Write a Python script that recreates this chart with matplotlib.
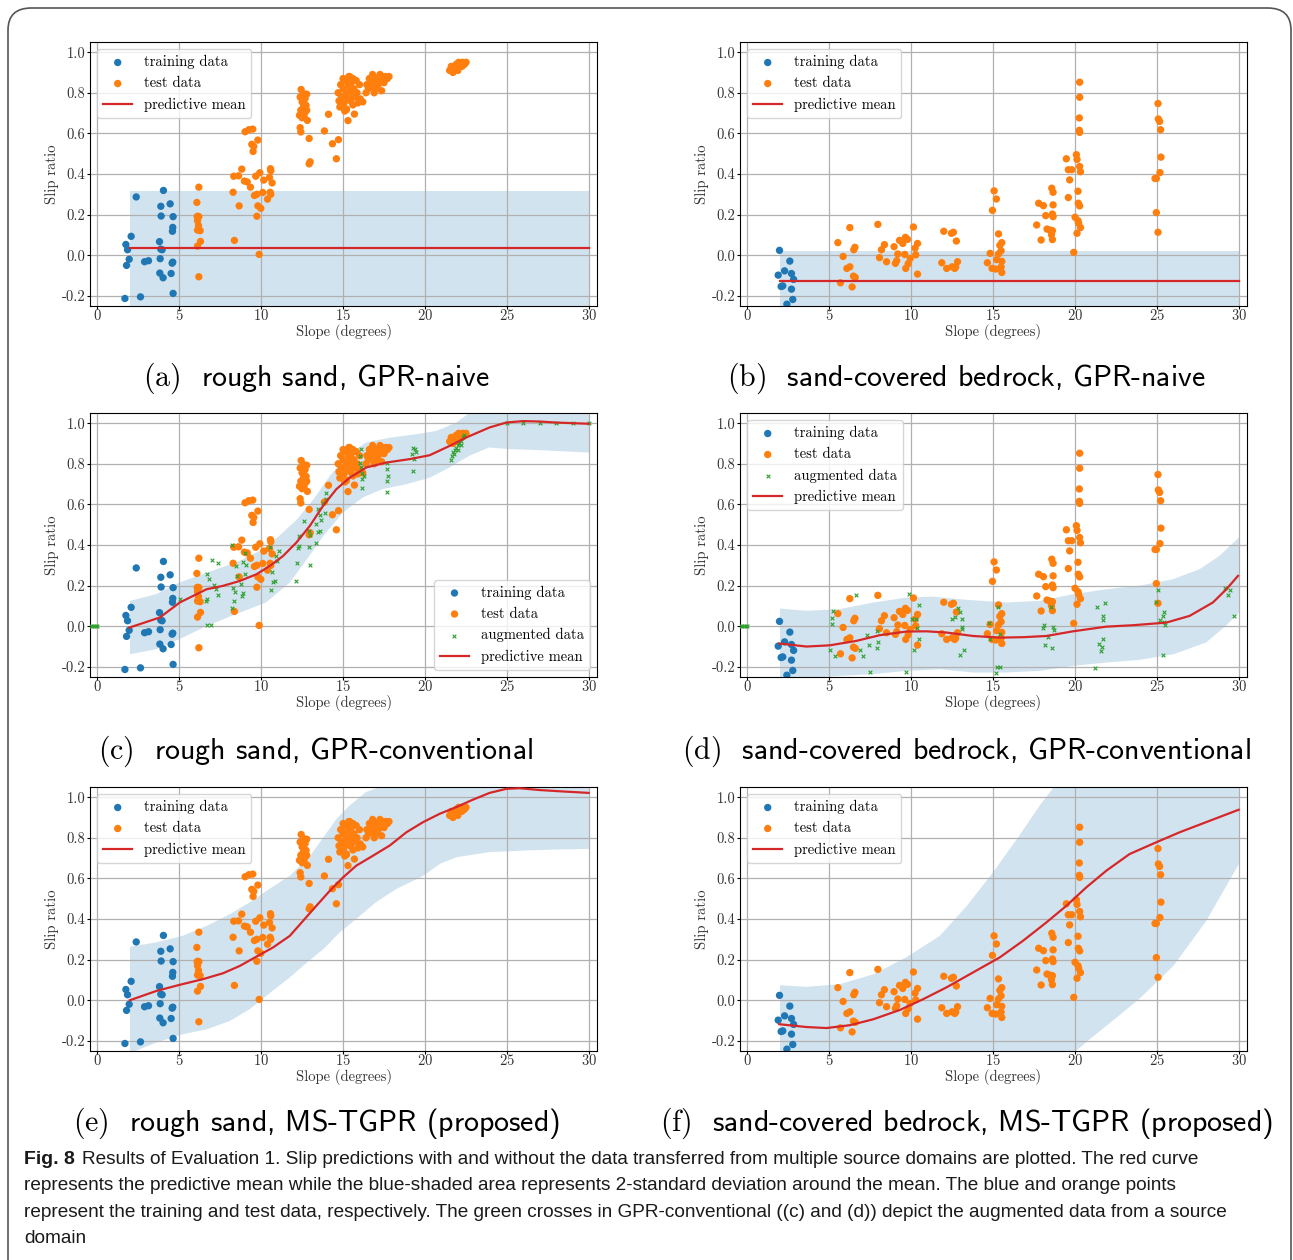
import numpy as np
import matplotlib
matplotlib.use("Agg")
import matplotlib.pyplot as plt
from matplotlib.patches import FancyBboxPatch

plt.rcParams['font.family'] = 'cmr10'
plt.rcParams['mathtext.fontset'] = 'cm'
plt.rcParams['axes.formatter.use_mathtext'] = True
plt.rcParams['axes.unicode_minus'] = True

# ---------------- data ----------------
# rough sand: training data (blue)
train_rs_x = [1.75, 1.85, 2.07, 1.95, 1.79, 1.69, 2.38, 2.64, 2.89, 3.13, 3.80, 3.88, 3.96,
              3.84, 3.82, 4.02, 3.90, 3.88, 4.04, 4.45, 4.63, 4.61, 4.59, 4.51, 4.61, 4.57, 4.63]
train_rs_y = [0.053, 0.027, 0.093, -0.020, -0.050, -0.213, 0.287, -0.205, -0.032, -0.027, 0.067, 0.030, 0.027,
              -0.017, -0.088, -0.111, 0.193, 0.241, 0.319, 0.253, 0.190, 0.137, 0.118, -0.090, -0.034, -0.039, -0.188]

# rough sand: test data (orange)
test_rs_x = [6.20, 6.08, 6.14, 6.12, 6.18, 6.12, 6.28, 6.30, 6.12, 6.20, 6.10, 6.20,
             8.29, 8.33, 8.62, 8.82, 8.37, 8.66, 8.98, 9.15, 9.35, 9.02, 9.25, 9.49, 9.43, 9.55, 9.51,
             9.80, 9.67, 9.92, 10.16, 9.59, 9.74, 10.10, 9.80, 9.98, 9.74, 9.88, 10.57, 10.59, 10.51,
             10.67, 10.55, 10.59, 10.39,
             12.44, 12.58, 12.78, 12.38, 12.68, 12.50, 12.74, 12.58, 12.42, 12.78, 12.34, 12.62, 12.82,
             12.50, 12.68, 12.38, 12.42, 12.93, 12.93, 12.99,
             14.11, 13.86, 14.35, 14.72, 14.59, 15.30, 15.69, 15.20, 16.20, 16.40,
             14.70, 14.75, 14.80, 14.85, 14.90, 15.00, 15.00, 15.05, 15.10, 15.15, 15.20, 15.25, 15.30,
             15.35, 15.40, 15.45, 15.50, 15.55, 15.60, 15.65, 15.70, 15.80, 15.85, 15.90, 16.00, 16.05,
             15.20, 15.60, 15.40,
             16.45, 16.55, 16.60, 16.70, 16.80, 16.85, 16.95, 17.00, 17.10, 17.15, 17.25, 17.30, 17.40,
             17.50, 17.60, 17.70, 17.80, 16.90, 17.35,
             21.50, 21.60, 21.70, 21.80, 21.90, 22.00, 22.10, 22.20, 22.30, 22.40, 22.50, 21.65, 21.95,
             22.25, 22.05]
test_rs_y = [0.335, 0.260, 0.192, 0.170, 0.146, 0.124, 0.121, 0.068, 0.045, -0.106, 0.190, 0.190,
             0.310, 0.389, 0.391, 0.424, 0.073, 0.243, 0.365, 0.361, 0.335, 0.608, 0.618, 0.621, 0.546, 0.536, 0.511,
             0.567, 0.389, 0.406, 0.370, 0.294, 0.300, 0.309, 0.243, 0.231, 0.192, 0.004, 0.426, 0.416, 0.383,
             0.356, 0.310, 0.300, 0.276,
             0.816, 0.796, 0.793, 0.779, 0.771, 0.755, 0.738, 0.730, 0.714, 0.714, 0.689, 0.684, 0.664,
             0.677, 0.705, 0.628, 0.607, 0.575, 0.450, 0.460,
             0.694, 0.612, 0.549, 0.569, 0.475, 0.663, 0.695, 0.717, 0.755, 0.800,
             0.800, 0.760, 0.730, 0.840, 0.780, 0.870, 0.820, 0.750, 0.710, 0.860, 0.800, 0.770, 0.840,
             0.880, 0.810, 0.760, 0.850, 0.790, 0.870, 0.820, 0.780, 0.860, 0.800, 0.750, 0.840, 0.770,
             0.720, 0.740, 0.880,
             0.840, 0.820, 0.870, 0.850, 0.890, 0.830, 0.860, 0.820, 0.870, 0.840, 0.890, 0.860, 0.880,
             0.850, 0.880, 0.870, 0.880, 0.800, 0.810,
             0.910, 0.930, 0.900, 0.920, 0.940, 0.910, 0.930, 0.940, 0.950, 0.940, 0.950, 0.920, 0.925,
             0.930, 0.950]

# sand-covered bedrock: training data (blue)
train_sb_x = [1.97, 2.60, 2.28, 1.89, 2.70, 2.83, 2.07, 2.17, 2.70, 2.78, 2.42]
train_sb_y = [0.024, -0.029, -0.077, -0.098, -0.090, -0.119, -0.154, -0.151, -0.167, -0.218, -0.241]

# sand-covered bedrock: test data (orange)
test_sb_x = [5.53, 5.85, 6.26, 6.57, 6.50, 6.26, 6.08, 5.69, 6.40, 6.48, 6.59,
             7.97, 8.07, 8.19, 8.37, 8.50, 8.96, 9.04, 9.12, 9.19, 9.29, 9.49, 9.65, 9.78, 9.61, 9.82,
             9.67, 9.94, 10.14, 10.24, 10.39, 10.28, 10.39,
             11.99, 12.46, 12.58, 12.76, 11.87, 12.17, 12.50, 12.66, 12.72, 12.83,
             15.06, 15.20, 14.96, 15.33, 14.82, 14.65, 14.94, 15.16, 15.41, 15.53, 15.49, 15.33, 15.22,
             15.53, 15.49, 15.53,
             17.66, 17.93, 17.78, 18.07, 18.58, 18.66, 18.66, 18.21, 18.62, 18.66, 18.29, 18.46, 18.62,
             18.56, 18.62,
             19.47, 19.59, 19.80, 19.67, 19.59, 19.92, 20.08, 20.12, 20.28, 20.33, 20.28, 20.28, 20.26,
             20.26, 20.28, 20.18, 20.20, 20.28, 20.00, 20.18, 20.22, 20.33, 20.12,
             25.06, 25.08, 25.16, 25.22, 25.24, 25.18, 24.88, 24.96, 24.96, 25.06]
test_sb_y = [0.062, -0.006, 0.136, 0.039, 0.027, -0.057, -0.065, -0.136, -0.156, -0.103, -0.109,
             0.152, -0.012, 0.027, 0.052, -0.032, 0.042, -0.040, -0.027, 0.006, 0.073, 0.058, 0.088, 0.078, 0.004, -0.042,
             -0.065, -0.016, 0.139, 0.035, 0.058, 0.002, -0.093,
             0.118, 0.108, 0.113, 0.070, -0.037, -0.065, -0.057, -0.065, -0.058, -0.032,
             0.317, 0.277, 0.221, 0.105, 0.009, -0.037, -0.065, -0.068, 0.049, 0.062, 0.022, 0.006, -0.022,
             -0.030, -0.058, -0.085,
             0.149, 0.075, 0.256, 0.244, 0.330, 0.310, 0.248, 0.195, 0.203, 0.190, 0.129, 0.124, 0.121,
             0.101, 0.077,
             0.475, 0.421, 0.421, 0.371, 0.284, 0.014, 0.495, 0.472, 0.437, 0.411, 0.852, 0.778, 0.676,
             0.615, 0.605, 0.315, 0.256, 0.243, 0.187, 0.170, 0.157, 0.136, 0.108,
             0.747, 0.671, 0.659, 0.618, 0.483, 0.407, 0.378, 0.378, 0.210, 0.113]

# augmented data (green crosses), GPR-conventional
aug_rs_x = [-0.40, -0.30, -0.20, -0.10, 0.00,
            5.04, 6.67, 6.99, 7.36, 6.83, 7.11, 7.24, 7.34, 6.71, 6.65, 6.67, 6.95,
            8.25, 8.46, 8.31, 8.41, 8.35, 8.25, 8.52, 8.90, 9.02, 9.07, 8.80, 8.90, 8.84, 9.02,
            10.57, 10.69, 10.83, 10.71, 10.61, 10.93, 11.06, 10.98,
            12.15, 12.20, 12.26, 12.32, 12.28, 12.62, 12.89, 12.97, 12.93, 12.97,
            13.37, 13.45, 13.62, 13.37, 13.48, 13.58, 13.68, 13.78, 13.94, 13.98, 13.88,
            16.02, 16.06, 16.12, 16.18, 16.16, 16.14, 16.08, 16.30,
            17.68, 17.70, 17.74, 17.70, 17.70,
            19.27, 19.37, 19.47, 19.23, 19.33, 19.27,
            21.60, 21.65, 21.70, 21.80, 21.90, 22.00, 22.10, 22.20, 22.30, 22.40, 21.75, 22.00, 22.20,
            25.0, 26.0, 27.0, 28.0, 29.0, 30.0]
aug_rs_y = [0.0, 0.0, 0.0, 0.0, 0.0,
            0.133, 0.255, 0.327, 0.310, 0.232, 0.204, 0.182, 0.153, 0.136, 0.125, 0.005, 0.005,
            0.399, 0.297, 0.186, 0.169, 0.122, 0.089, 0.248, 0.314, 0.360, 0.300, 0.207, 0.166, 0.149, 0.256,
            0.392, 0.268, 0.223, 0.220, 0.179, 0.346, 0.371, 0.322,
            0.223, 0.310, 0.383, 0.396, 0.445, 0.519, 0.470, 0.448, 0.392, 0.300,
            0.412, 0.465, 0.470, 0.502, 0.576, 0.547, 0.524, 0.609, 0.626, 0.658, 0.560,
            0.839, 0.806, 0.782, 0.757, 0.724, 0.683, 0.872, 0.741,
            0.806, 0.773, 0.741, 0.716, 0.663,
            0.880, 0.872, 0.856, 0.847, 0.823, 0.765,
            0.820, 0.840, 0.860, 0.870, 0.880, 0.890, 0.900, 0.910, 0.930, 0.940, 0.850, 0.870, 0.890,
            1.0, 1.0, 1.0, 1.0, 1.0, 1.0]

aug_sb_x = [-0.40, -0.30, -0.20, -0.10, 0.00,
            6.65, 5.24, 5.18, 5.20, 5.08, 5.33, 6.89, 7.07, 7.28, 7.46, 7.52, 7.89, 7.95, 7.91,
            9.86, 10.08, 10.28, 10.33, 10.47, 10.47, 10.18, 9.67,
            12.52, 12.66, 12.83, 12.97, 13.13, 13.09, 13.11, 13.25, 12.97,
            14.72, 15.33, 14.84, 15.41, 15.26, 15.43, 15.20,
            18.03, 18.11, 18.56, 18.66, 18.70, 18.37, 18.19, 18.62,
            21.34, 21.81, 21.71, 21.69, 21.71, 21.46, 21.63, 21.57, 21.22,
            25.04, 24.96, 25.45, 25.37, 25.20, 25.43, 25.51, 25.37,
            29.13, 29.33, 29.47, 29.70]
aug_sb_y = [0.0, 0.0, 0.0, 0.0, 0.0,
            0.153, 0.076, 0.041, 0.010, -0.117, -0.149, -0.117, -0.149, -0.043, -0.094, -0.223, -0.023, -0.076, -0.108,
            0.161, 0.034, 0.034, -0.011, 0.103, -0.064, -0.117, -0.225,
            0.034, 0.046, 0.090, 0.071, 0.038, -0.015, -0.003, -0.117, -0.141,
            0.018, 0.094, -0.064, -0.039, -0.199, -0.199, -0.232,
            -0.007, 0.005, 0.095, -0.002, -0.021, -0.054, -0.090, -0.107,
            0.095, 0.112, 0.048, 0.031, -0.064, -0.087, -0.102, -0.123, -0.205,
            0.179, 0.120, 0.072, 0.048, 0.031, 0.021, 0.005, -0.140,
            0.186, 0.156, 0.176, 0.051]

# predictive means and 2-sigma bands
naive_rs_mean, naive_rs_up, naive_rs_lo = 0.034, 0.315, -0.25
naive_sb_mean, naive_sb_up, naive_sb_lo = -0.126, 0.022, -0.28

conv_rs_mx = [1.95, 3.82, 5.04, 6.67, 7.68, 8.70, 9.72, 10.53, 11.34, 12.15, 12.97, 13.78, 14.59,
              15.41, 16.42, 17.64, 19.07, 20.28, 21.5, 22.5, 23.94, 24.96, 25.97, 26.99, 28.0, 29.98]
conv_rs_my = [-0.007, 0.043, 0.117, 0.182, 0.199, 0.223, 0.256, 0.297, 0.346, 0.412, 0.494, 0.593, 0.675,
              0.732, 0.782, 0.806, 0.823, 0.842, 0.888, 0.929, 0.979, 1.003, 1.010, 1.008, 1.003, 0.997]
conv_rs_ux = [2.0, 3.6, 5.0, 6.7, 8.7, 10.1, 11.1, 12.2, 13.2, 14.2, 15.2, 16.4, 17.9, 19.5, 20.7,
              21.9, 22.7, 24.0, 26.0, 28.0, 30.0]
conv_rs_uy = [0.125, 0.158, 0.215, 0.264, 0.322, 0.379, 0.445, 0.527, 0.626, 0.741, 0.839, 0.905, 0.929,
              0.946, 0.962, 1.003, 1.05, 1.09, 1.11, 1.10, 1.09]
conv_rs_lx = [2.0, 3.6, 5.0, 6.7, 8.7, 10.3, 11.75, 12.8, 13.8, 15.0, 16.2, 17.4, 18.9, 20.3, 21.5,
              22.7, 23.9, 25.2, 27.0, 29.0, 30.0]
conv_rs_ly = [-0.138, -0.113, -0.064, 0.002, 0.067, 0.117, 0.215, 0.330, 0.445, 0.560, 0.634, 0.675,
              0.700, 0.732, 0.782, 0.839, 0.880, 0.872, 0.867, 0.859, 0.855]

conv_sb_mx = [1.95, 3.62, 5.04, 6.67, 8.09, 9.72, 10.93, 12.15, 13.78, 15.41, 16.83, 18.25, 19.88,
              21.91, 23.54, 25.57, 26.99, 28.41, 29.23, 29.94]
conv_sb_my = [-0.085, -0.100, -0.094, -0.072, -0.044, -0.026, -0.025, -0.031, -0.048, -0.056, -0.054,
              -0.048, -0.025, -0.002, 0.005, 0.018, 0.051, 0.117, 0.182, 0.248]
conv_sb_ux = [2.0, 3.6, 5.65, 7.7, 9.7, 11.3, 13.4, 15.8, 17.85, 19.9, 21.9, 23.9, 26.0, 27.6, 28.8, 30.0]
conv_sb_uy = [0.087, 0.076, 0.084, 0.117, 0.141, 0.146, 0.130, 0.117, 0.125, 0.158, 0.182, 0.199,
              0.232, 0.281, 0.346, 0.437]
conv_sb_lx = [2.0, 3.6, 5.65, 7.7, 9.7, 11.75, 13.8, 15.8, 17.85, 19.9, 21.9, 23.9, 26.0, 28.0, 29.2, 30.0]
conv_sb_ly = [-0.27, -0.255, -0.245, -0.236, -0.220, -0.212, -0.228, -0.228, -0.220, -0.195, -0.179,
              -0.166, -0.138, -0.080, 0.002, 0.067]

ms_rs_mx = [1.99, 3.62, 5.04, 6.46, 7.68, 8.70, 9.72, 10.73, 11.75, 12.56, 13.37, 14.19, 15.0, 15.81,
            16.83, 17.85, 18.86, 19.88, 20.89, 21.91, 22.93, 23.94, 24.96, 25.77, 26.99, 28.41, 29.98]
ms_rs_my = [0.0, 0.046, 0.076, 0.104, 0.133, 0.169, 0.215, 0.260, 0.317, 0.391, 0.465, 0.539, 0.605,
            0.663, 0.712, 0.762, 0.827, 0.877, 0.918, 0.951, 0.988, 1.021, 1.041, 1.044, 1.035, 1.028, 1.021]
ms_rs_ux = [2.0, 3.6, 5.2, 6.7, 8.1, 9.3, 10.5, 11.75, 13.0, 13.8, 14.6, 15.4, 16.4, 17.2, 19.0, 23.0, 30.0]
ms_rs_uy = [0.263, 0.285, 0.317, 0.367, 0.424, 0.482, 0.548, 0.613, 0.712, 0.803, 0.893, 0.959, 1.025,
            1.049, 1.10, 1.15, 1.15]
ms_rs_lx = [2.0, 3.6, 5.2, 6.7, 8.1, 9.3, 10.7, 11.75, 12.8, 13.8, 14.8, 15.8, 17.0, 18.25, 19.1, 19.9,
            20.9, 21.9, 23.9, 26.0, 28.0, 30.0]
ms_rs_ly = [-0.26, -0.209, -0.168, -0.143, -0.102, -0.044, 0.046, 0.112, 0.186, 0.252, 0.334, 0.400,
            0.482, 0.548, 0.581, 0.613, 0.671, 0.704, 0.729, 0.737, 0.742, 0.745]

ms_sb_mx = [1.95, 3.62, 4.84, 6.26, 7.68, 9.31, 10.73, 12.15, 13.78, 15.41, 16.83, 18.25, 19.47, 20.69,
            21.91, 23.33, 24.96, 26.38, 28.0, 29.98]
ms_sb_my = [-0.118, -0.132, -0.137, -0.123, -0.094, -0.048, 0.005, 0.063, 0.137, 0.211, 0.293, 0.383,
            0.465, 0.556, 0.638, 0.720, 0.778, 0.827, 0.877, 0.938]
ms_sb_ux = [2.0, 3.6, 5.65, 7.7, 9.7, 11.75, 13.4, 15.0, 16.6, 17.85, 18.7, 20.0, 25.0, 30.0]
ms_sb_uy = [0.074, 0.066, 0.079, 0.128, 0.211, 0.317, 0.465, 0.630, 0.811, 0.959, 1.049, 1.15, 1.3, 1.3]
ms_sb_lx = [2.0, 10.0, 15.0, 19.9, 20.9, 21.9, 23.9, 26.0, 28.0, 30.0]
ms_sb_ly = [-0.62, -0.55, -0.45, -0.26, -0.192, -0.127, 0.005, 0.169, 0.39, 0.671]

captions = ["rough sand, GPR-naive", "sand-covered bedrock, GPR-naive",
            "rough sand, GPR-conventional", "sand-covered bedrock, GPR-conventional",
            "rough sand, MS-TGPR (proposed)", "sand-covered bedrock, MS-TGPR (proposed)"]
letters = ["a", "b", "c", "d", "e", "f"]

BLUE, ORANGE, GREEN, RED = '#1f77b4', '#ff7f0e', '#2ca02c', '#d62728'

fig = plt.figure(figsize=(12.93, 12.60), dpi=100)

# rounded page frame (bottom runs off the page)
frame = FancyBboxPatch((8 / 1293, -0.05), 1283 / 1293, 1.05 - 8 / 1260,
                       boxstyle="round,pad=0,rounding_size=0.018", mutation_aspect=1260 / 1293,
                       transform=fig.transFigure, facecolor='none', edgecolor='#555555', lw=1.2)
fig.patches.append(frame)

lefts = [90, 740]
tops = [42, 413, 787]
W, H = 507, 264


def make_ax(row, col):
    ax = fig.add_axes([lefts[col] / 1293, 1 - (tops[row] + H) / 1260, W / 1293, H / 1260])
    ax.set_xlim(-0.44, 30.49)
    ax.set_ylim(-0.25, 1.05)
    ax.set_xticks([0, 5, 10, 15, 20, 25, 30])
    ax.set_yticks([-0.2, 0.0, 0.2, 0.4, 0.6, 0.8, 1.0])
    ax.yaxis.set_major_formatter(matplotlib.ticker.FormatStrFormatter('%.1f'))
    ax.grid(True, color='#b0b0b0', lw=0.9)
    ax.tick_params(direction='out', length=2.5, labelsize=10.5, labelcolor='#333333')
    ax.tick_params(axis='x', pad=-1)
    ax.tick_params(axis='y', pad=1)
    ax.set_xlabel('Slope (degrees)', fontsize=10.5, color='#333333', labelpad=1)
    ax.set_ylabel('Slip ratio', fontsize=10.5, color='#333333', labelpad=2)
    return ax


def draw(ax, tx, ty, sx, sy, ax_x=None, ax_y=None):
    ax.scatter(tx, ty, s=28, color=BLUE, zorder=2.5, label='training data', edgecolors='none')
    ax.scatter(sx, sy, s=28, color=ORANGE, zorder=2.6, label='test data', edgecolors='none')
    if ax_x is not None:
        ax.scatter(ax_x, ax_y, s=7, marker='x', color=GREEN, lw=0.8, zorder=2.7,
                   label='augmented data')


panels = []
# (a)
ax = make_ax(0, 0)
ax.fill_between([2, 30], naive_rs_lo, naive_rs_up, color=BLUE, alpha=0.2, lw=0, zorder=1)
draw(ax, train_rs_x, train_rs_y, test_rs_x, test_rs_y)
ax.plot([2, 30], [naive_rs_mean, naive_rs_mean], color=RED, lw=1.6, zorder=3, label='predictive mean')
ax.legend(loc='upper left', fontsize=10.5)
panels.append(ax)
# (b)
ax = make_ax(0, 1)
ax.fill_between([2, 30], naive_sb_lo, naive_sb_up, color=BLUE, alpha=0.2, lw=0, zorder=1)
draw(ax, train_sb_x, train_sb_y, test_sb_x, test_sb_y)
ax.plot([2, 30], [naive_sb_mean, naive_sb_mean], color=RED, lw=1.6, zorder=3, label='predictive mean')
ax.legend(loc='upper left', fontsize=10.5)
panels.append(ax)
# (c)
ax = make_ax(1, 0)
ax.fill(conv_rs_ux + conv_rs_lx[::-1], conv_rs_uy + conv_rs_ly[::-1], color=BLUE, alpha=0.2, lw=0, zorder=1)
draw(ax, train_rs_x, train_rs_y, test_rs_x, test_rs_y, aug_rs_x, aug_rs_y)
ax.plot(conv_rs_mx, conv_rs_my, color=RED, lw=1.6, zorder=3, label='predictive mean')
ax.legend(loc='lower right', fontsize=10.5)
panels.append(ax)
# (d)
ax = make_ax(1, 1)
ax.fill(conv_sb_ux + conv_sb_lx[::-1], conv_sb_uy + conv_sb_ly[::-1], color=BLUE, alpha=0.2, lw=0, zorder=1)
draw(ax, train_sb_x, train_sb_y, test_sb_x, test_sb_y, aug_sb_x, aug_sb_y)
ax.plot(conv_sb_mx, conv_sb_my, color=RED, lw=1.6, zorder=3, label='predictive mean')
ax.legend(loc='upper left', fontsize=10.5)
panels.append(ax)
# (e)
ax = make_ax(2, 0)
ax.fill(ms_rs_ux + ms_rs_lx[::-1], ms_rs_uy + ms_rs_ly[::-1], color=BLUE, alpha=0.2, lw=0, zorder=1)
draw(ax, train_rs_x, train_rs_y, test_rs_x, test_rs_y)
ax.plot(ms_rs_mx, ms_rs_my, color=RED, lw=1.6, zorder=3, label='predictive mean')
ax.legend(loc='upper left', fontsize=10.5)
panels.append(ax)
# (f)
ax = make_ax(2, 1)
ax.fill(ms_sb_ux + ms_sb_lx[::-1], ms_sb_uy + ms_sb_ly[::-1], color=BLUE, alpha=0.2, lw=0, zorder=1)
draw(ax, train_sb_x, train_sb_y, test_sb_x, test_sb_y)
ax.plot(ms_sb_mx, ms_sb_my, color=RED, lw=1.6, zorder=3, label='predictive mean')
ax.legend(loc='upper left', fontsize=10.5)
panels.append(ax)

# sub-captions
cap_y = [378, 751, 1123]
cap_x = [316, 966]
for i, (let, cap) in enumerate(zip(letters, captions)):
    r, c = i // 2, i % 2
    fig.text(cap_x[c] / 1293, 1 - cap_y[r] / 1260, r"$\mathrm{(" + let + ")}$  " + cap,
             fontsize=21.5, family='cmss10', ha='center', va='center')

# figure caption
cap_font = ['Liberation Sans', 'DejaVu Sans']
lines = ["Results of Evaluation 1. Slip predictions with and without the data transferred from multiple source domains are plotted. The red curve",
         "represents the predictive mean while the blue-shaded area represents 2-standard deviation around the mean. The blue and orange points",
         "represent the training and test data, respectively. The green crosses in GPR-conventional ((c) and (d)) depict the augmented data from a source",
         "domain"]
fig_lbl = fig.text(24 / 1293, 1 - 1159 / 1260, "Fig. 8", fontsize=14, fontweight='bold',
                   family=cap_font, va='center', ha='left', color='#1a1a1a')
panels[0].annotate(lines[0], xy=(1, 0.5), xycoords=fig_lbl, xytext=(5, 0), textcoords='offset points',
                   fontsize=13.7, family=cap_font, va='center', ha='left', color='#1a1a1a',
                   annotation_clip=False)
for k in range(1, 4):
    fig.text(24 / 1293, 1 - (1159 + 26.6 * k) / 1260, lines[k], fontsize=13.7, family=cap_font,
             va='center', ha='left', color='#1a1a1a')

fig.savefig('out.png', dpi=100)
